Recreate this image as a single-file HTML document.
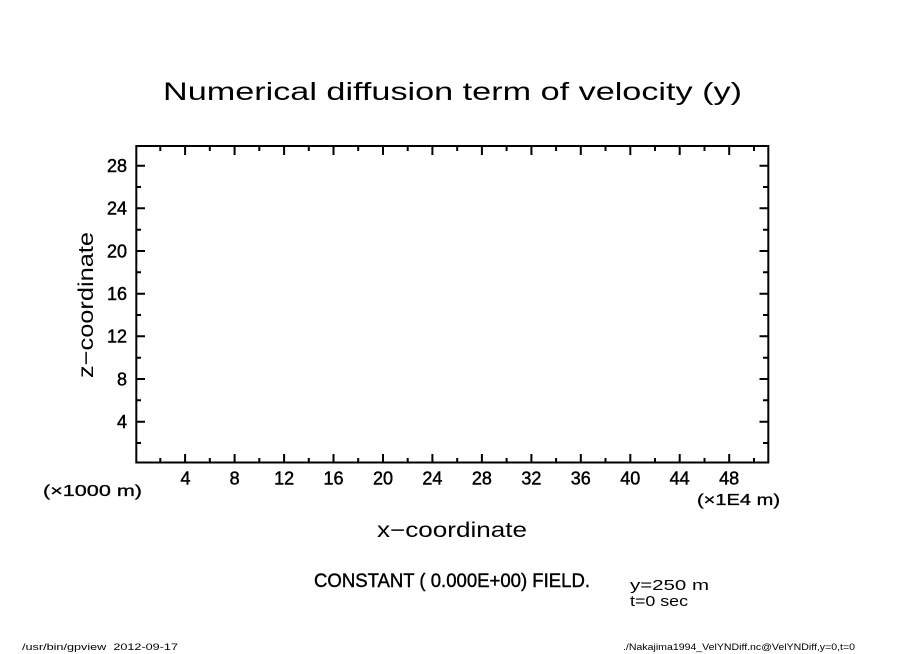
<!DOCTYPE html>
<html>
<head>
<meta charset="utf-8">
<style>
html,body{margin:0;padding:0;background:#fff;}
svg{display:block;}
text{font-family:"Liberation Sans",sans-serif;fill:#000;}
</style>
</head>
<body>
<svg width="904" height="654" viewBox="0 0 904 654" xmlns="http://www.w3.org/2000/svg">
<rect x="0" y="0" width="904" height="654" fill="#fff"/>

<!-- Title -->
<text x="163" y="100" font-size="25" textLength="579" lengthAdjust="spacingAndGlyphs">Numerical diffusion term of velocity (y)</text>

<!-- frame -->
<rect x="136.3" y="146" width="632" height="316.5" fill="none" stroke="#000" stroke-width="2"/>

<g stroke="#000" stroke-width="2">
<path d="
M185.1 462.5 V454 M234.6 462.5 V454 M284.1 462.5 V454 M333.5 462.5 V454 M383 462.5 V454 M432.4 462.5 V454
M481.9 462.5 V454 M531.4 462.5 V454 M580.8 462.5 V454 M630.3 462.5 V454 M679.7 462.5 V454 M729.2 462.5 V454
M185.1 146 V155 M234.6 146 V155 M284.1 146 V155 M333.5 146 V155 M383 146 V155 M432.4 146 V155
M481.9 146 V155 M531.4 146 V155 M580.8 146 V155 M630.3 146 V155 M679.7 146 V155 M729.2 146 V155"/>
<path d="
M160.3 462.5 V458 M209.8 462.5 V458 M259.3 462.5 V458 M308.8 462.5 V458 M358.2 462.5 V458 M407.7 462.5 V458
M457.2 462.5 V458 M506.6 462.5 V458 M556.1 462.5 V458 M605.5 462.5 V458 M655 462.5 V458 M704.5 462.5 V458 M754 462.5 V458
M160.3 146 V151 M209.8 146 V151 M259.3 146 V151 M308.8 146 V151 M358.2 146 V151 M407.7 146 V151
M457.2 146 V151 M506.6 146 V151 M556.1 146 V151 M605.5 146 V151 M655 146 V151 M704.5 146 V151 M754 146 V151"/>
<path d="
M136.3 421.7 H145 M136.3 379 H145 M136.3 336.3 H145 M136.3 293.7 H145 M136.3 251 H145 M136.3 208.3 H145 M136.3 165.7 H145
M768.3 421.7 H759.5 M768.3 379 H759.5 M768.3 336.3 H759.5 M768.3 293.7 H759.5 M768.3 251 H759.5 M768.3 208.3 H759.5 M768.3 165.7 H759.5"/>
<path d="
M136.3 443 H141 M136.3 400.3 H141 M136.3 357.7 H141 M136.3 315 H141 M136.3 272.3 H141 M136.3 229.7 H141 M136.3 187 H141
M768.3 443 H763 M768.3 400.3 H763 M768.3 357.7 H763 M768.3 315 H763 M768.3 272.3 H763 M768.3 229.7 H763 M768.3 187 H763"/>
</g>

<!-- y tick labels -->
<g font-size="18" text-anchor="end" stroke="#000" stroke-width="0.45">
<text x="127" y="428">4</text>
<text x="127" y="385.3">8</text>
<text x="127" y="342.6">12</text>
<text x="127" y="300">16</text>
<text x="127" y="257.3">20</text>
<text x="127" y="214.6">24</text>
<text x="127" y="172">28</text>
</g>

<!-- x tick labels -->
<g font-size="18" text-anchor="middle" stroke="#000" stroke-width="0.45">
<text x="185.5" y="484.5">4</text>
<text x="234.6" y="484.5">8</text>
<text x="284.1" y="484.5">12</text>
<text x="333.5" y="484.5">16</text>
<text x="383" y="484.5">20</text>
<text x="432.4" y="484.5">24</text>
<text x="481.9" y="484.5">28</text>
<text x="531.4" y="484.5">32</text>
<text x="580.8" y="484.5">36</text>
<text x="630.3" y="484.5">40</text>
<text x="679.7" y="484.5">44</text>
<text x="729.2" y="484.5">48</text>
</g>

<text x="43" y="496" font-size="16" stroke="#000" stroke-width="0.3" textLength="99" lengthAdjust="spacingAndGlyphs">(×1000 m)</text>
<text x="697" y="505" font-size="16" stroke="#000" stroke-width="0.3" textLength="83" lengthAdjust="spacingAndGlyphs">(×1E4 m)</text>

<!-- axis titles -->
<text x="377" y="537" font-size="21" textLength="150" lengthAdjust="spacingAndGlyphs">x−coordinate</text>
<text transform="translate(93,378) rotate(-90)" x="0" y="0" font-size="21" textLength="146" lengthAdjust="spacingAndGlyphs">z−coordinate</text>

<!-- annotations -->
<text x="314" y="587" font-size="19" stroke="#000" stroke-width="0.4" textLength="276" lengthAdjust="spacingAndGlyphs">CONSTANT ( 0.000E+00) FIELD.</text>
<text x="630" y="590" font-size="15" textLength="79" lengthAdjust="spacingAndGlyphs">y=250 m</text>
<text x="630" y="606" font-size="15" textLength="58" lengthAdjust="spacingAndGlyphs">t=0 sec</text>

<!-- footer -->
<text x="22" y="650" font-size="9.5" xml:space="preserve" textLength="156" lengthAdjust="spacingAndGlyphs">/usr/bin/gpview  2012-09-17</text>
<text x="623" y="650" font-size="9.5" textLength="232" lengthAdjust="spacingAndGlyphs">./Nakajima1994_VelYNDiff.nc@VelYNDiff,y=0,t=0</text>
</svg>
</body>
</html>
